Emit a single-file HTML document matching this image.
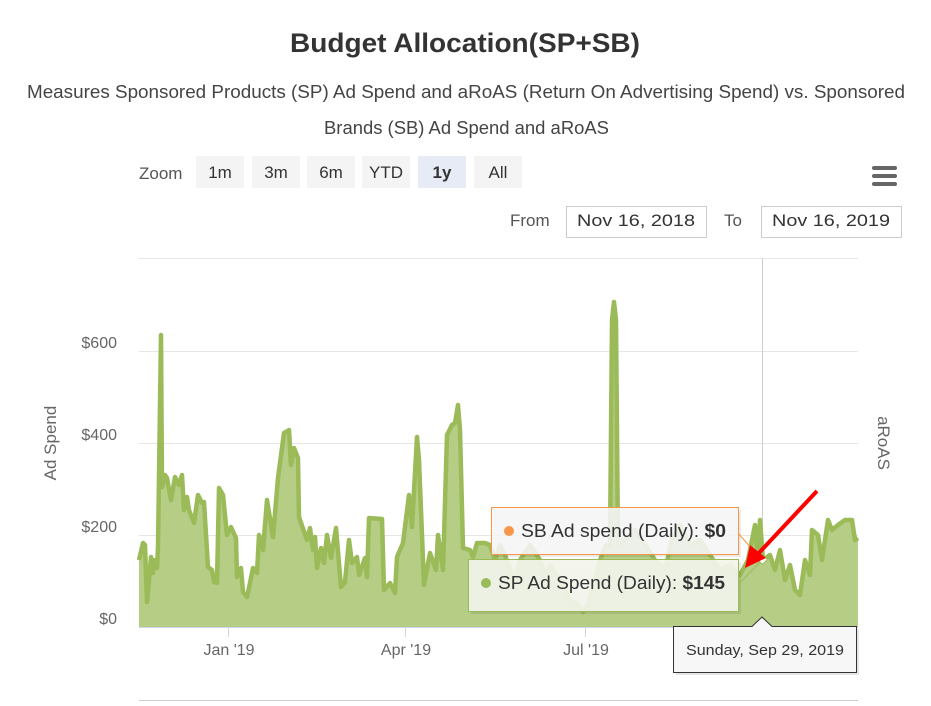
<!DOCTYPE html>
<html><head><meta charset="utf-8"><style>
body{margin:0;background:#fff;font-family:"Liberation Sans",sans-serif;}
</style></head><body>
<svg width="931" height="701" xmlns="http://www.w3.org/2000/svg" font-family="Liberation Sans, DejaVu Sans, sans-serif">
<rect width="931" height="701" fill="#fff"/>
<text x="290" y="52" font-size="27" font-weight="bold" fill="#333" textLength="350" lengthAdjust="spacingAndGlyphs">Budget Allocation(SP+SB)</text>
<text x="27" y="98" font-size="18" fill="#444" textLength="878" lengthAdjust="spacingAndGlyphs">Measures Sponsored Products (SP) Ad Spend and aRoAS (Return On Advertising Spend) vs. Sponsored</text>
<text x="324" y="134" font-size="18" fill="#444" textLength="285" lengthAdjust="spacingAndGlyphs">Brands (SB) Ad Spend and aRoAS</text>
<text x="139" y="179" font-size="17" fill="#555">Zoom</text>
<g font-size="17" fill="#333" text-anchor="middle">
<rect x="196" y="156" width="48" height="32" fill="#f4f4f4"/><text x="220" y="178">1m</text>
<rect x="252" y="156" width="48" height="32" fill="#f4f4f4"/><text x="276" y="178">3m</text>
<rect x="307" y="156" width="48" height="32" fill="#f4f4f4"/><text x="331" y="178">6m</text>
<rect x="362" y="156" width="48" height="32" fill="#f4f4f4"/><text x="386" y="178">YTD</text>
<rect x="418" y="156" width="48" height="32" fill="#e6ebf5"/><text x="442" y="178" font-weight="bold">1y</text>
<rect x="474" y="156" width="48" height="32" fill="#f4f4f4"/><text x="498" y="178">All</text>
</g>
<g fill="#666"><rect x="872" y="166" width="25" height="4" rx="2"/><rect x="872" y="174" width="25" height="4" rx="2"/><rect x="872" y="182" width="25" height="4" rx="2"/></g>
<text x="510" y="226" font-size="17" fill="#555">From</text>
<rect x="566.5" y="206.5" width="140" height="31" fill="#fff" stroke="#ccc"/>
<text x="636" y="226" text-anchor="middle" font-size="17" fill="#333" textLength="118" lengthAdjust="spacingAndGlyphs">Nov 16, 2018</text>
<text x="724" y="226" font-size="17" fill="#555">To</text>
<rect x="761.5" y="206.5" width="140" height="31" fill="#fff" stroke="#ccc"/>
<text x="831" y="226" text-anchor="middle" font-size="17" fill="#333" textLength="118" lengthAdjust="spacingAndGlyphs">Nov 16, 2019</text>
<g stroke="#e6e6e6" stroke-width="1">
<line x1="139" y1="258.5" x2="858" y2="258.5"/><line x1="139" y1="351.5" x2="858" y2="351.5"/>
<line x1="139" y1="443.5" x2="858" y2="443.5"/><line x1="139" y1="535.5" x2="858" y2="535.5"/>
<line x1="139" y1="700.5" x2="858" y2="700.5" stroke="#ccc"/>
</g>
<g font-size="16" fill="#666" text-anchor="end">
<text x="117" y="348">$600</text><text x="117" y="440">$400</text><text x="117" y="532">$200</text><text x="117" y="624">$0</text>
</g>
<text transform="translate(56,443) rotate(-90)" text-anchor="middle" font-size="17" fill="#666">Ad Spend</text>
<text transform="translate(878,443) rotate(90)" text-anchor="middle" font-size="17" fill="#666">aRoAS</text>
<line x1="762.5" y1="258" x2="762.5" y2="627" stroke="#ccc"/>
<polygon fill="#b5cd85" points="139,627 139,560 143,543 145,545 147,602 151,557 153,573 154,560 157,568 158,547 161,335 162,487 165,475 167,478 171,500 175,477 179,485 182,475 184,510 187,497 189,510 194,523 198,495 202,503 204,502 208,567 212,570 214,582 217,583 219,488 223,495 227,535 231,527 236,538 237,577 241,568 243,592 247,597 250,583 253,568 257,573 259,535 263,550 267,500 273,537 278,478 284,433 289,430 291,465 294,448 298,458 299,517 307,540 310,528 313,550 315,537 317,568 321,548 324,563 327,535 331,558 336,528 341,587 345,582 349,540 352,563 357,557 359,575 365,558 367,577 369,518 382,519 384,590 390,583 395,593 397,557 403,543 409,495 412,527 417,437 419,460 424,585 430,553 436,570 438,535 443,570 447,435 452,425 455,423 458,405 460,430 463,548 470,550 473,557 477,543 485,543 490,545 495,560 500,545 505,555 510,570 515,580 520,560 530,545 540,560 545,575 550,565 560,580 570,600 578,605 583,612 588,605 595,580 600,560 606,545 610,545 612,320 614,302 616,320 618,545 625,540 635,530 645,545 655,560 665,570 672,540 680,525 690,545 700,540 710,555 720,570 730,565 740,575 748,560 752,540 755,525 758,560 760,520 763,560 770,555 775,570 780,550 785,580 790,565 795,590 800,595 805,560 810,575 812,530 818,535 822,560 828,520 832,530 838,525 845,520 852,520 855,540 858,538 858,627"/>
<polyline fill="none" stroke="#9bbb59" stroke-width="4.5" stroke-linejoin="round" points="139,560 143,543 145,545 147,602 151,557 153,573 154,560 157,568 158,547 161,335 162,487 165,475 167,478 171,500 175,477 179,485 182,475 184,510 187,497 189,510 194,523 198,495 202,503 204,502 208,567 212,570 214,582 217,583 219,488 223,495 227,535 231,527 236,538 237,577 241,568 243,592 247,597 250,583 253,568 257,573 259,535 263,550 267,500 273,537 278,478 284,433 289,430 291,465 294,448 298,458 299,517 307,540 310,528 313,550 315,537 317,568 321,548 324,563 327,535 331,558 336,528 341,587 345,582 349,540 352,563 357,557 359,575 365,558 367,577 369,518 382,519 384,590 390,583 395,593 397,557 403,543 409,495 412,527 417,437 419,460 424,585 430,553 436,570 438,535 443,570 447,435 452,425 455,423 458,405 460,430 463,548 470,550 473,557 477,543 485,543 490,545 495,560 500,545 505,555 510,570 515,580 520,560 530,545 540,560 545,575 550,565 560,580 570,600 578,605 583,612 588,605 595,580 600,560 606,545 610,545 612,320 614,302 616,320 618,545 625,540 635,530 645,545 655,560 665,570 672,540 680,525 690,545 700,540 710,555 720,570 730,565 740,575 748,560 752,540 755,525 758,560 760,520 763,560 770,555 775,570 780,550 785,580 790,565 795,590 800,595 805,560 810,575 812,530 818,535 822,560 828,520 832,530 838,525 845,520 852,520 855,540 858,538"/>
<line x1="139" y1="627.5" x2="858" y2="627.5" stroke="#ccd6eb"/>
<g stroke="#ccd6eb"><line x1="228.5" y1="627" x2="228.5" y2="637"/><line x1="405.5" y1="627" x2="405.5" y2="637"/><line x1="585.5" y1="627" x2="585.5" y2="637"/></g>
<g font-size="16" fill="#666" text-anchor="middle">
<text x="229" y="655">Jan '19</text><text x="406" y="655">Apr '19</text><text x="586" y="655">Jul '19</text>
</g>
<rect x="494" y="510" width="247" height="47" fill="#000" fill-opacity="0.08"/>
<rect x="491.5" y="507.5" width="247" height="47" fill="#f7f7f7" fill-opacity="0.88" stroke="#f79646"/>
<line x1="738" y1="533" x2="760" y2="558" stroke="#f79646"/>
<circle cx="509" cy="531" r="5" fill="#f79646"/>
<text x="521" y="537" font-size="18" fill="#333" textLength="205" lengthAdjust="spacingAndGlyphs">SB Ad spend (Daily): <tspan font-weight="bold">$0</tspan></text>
<rect x="471" y="562" width="270" height="52" fill="#000" fill-opacity="0.08"/>
<rect x="468.5" y="559.5" width="270" height="52" fill="#f3f5ec" fill-opacity="0.92" stroke="#9bbb59"/>
<line x1="738" y1="585" x2="760" y2="562" stroke="#9bbb59"/>
<circle cx="486" cy="583" r="5" fill="#9bbb59"/>
<text x="498" y="589" font-size="18" fill="#333" textLength="227" lengthAdjust="spacingAndGlyphs">SP Ad Spend (Daily): <tspan font-weight="bold">$145</tspan></text>
<rect x="759" y="556" width="7" height="7" transform="rotate(45 762.5 559.5)" fill="#fff" stroke="#9bbb59"/>
<path d="M676,629 H754 L764,620 L774,629 H859 V675 H676 Z" fill="#000" fill-opacity="0.1"/>
<path d="M673.5,626.5 H752 L762,617 L772,626.5 H856.5 V672.5 H673.5 Z" fill="#f7f7f7" stroke="#333"/>
<text x="765" y="655" text-anchor="middle" font-size="15" fill="#333" textLength="158" lengthAdjust="spacingAndGlyphs">Sunday, Sep 29, 2019</text>
<line x1="817" y1="491" x2="757" y2="555" stroke="#ff0000" stroke-width="4"/>
<polygon points="745,568 750,545 766,558" fill="#ff0000"/>
</svg>
</body></html>
